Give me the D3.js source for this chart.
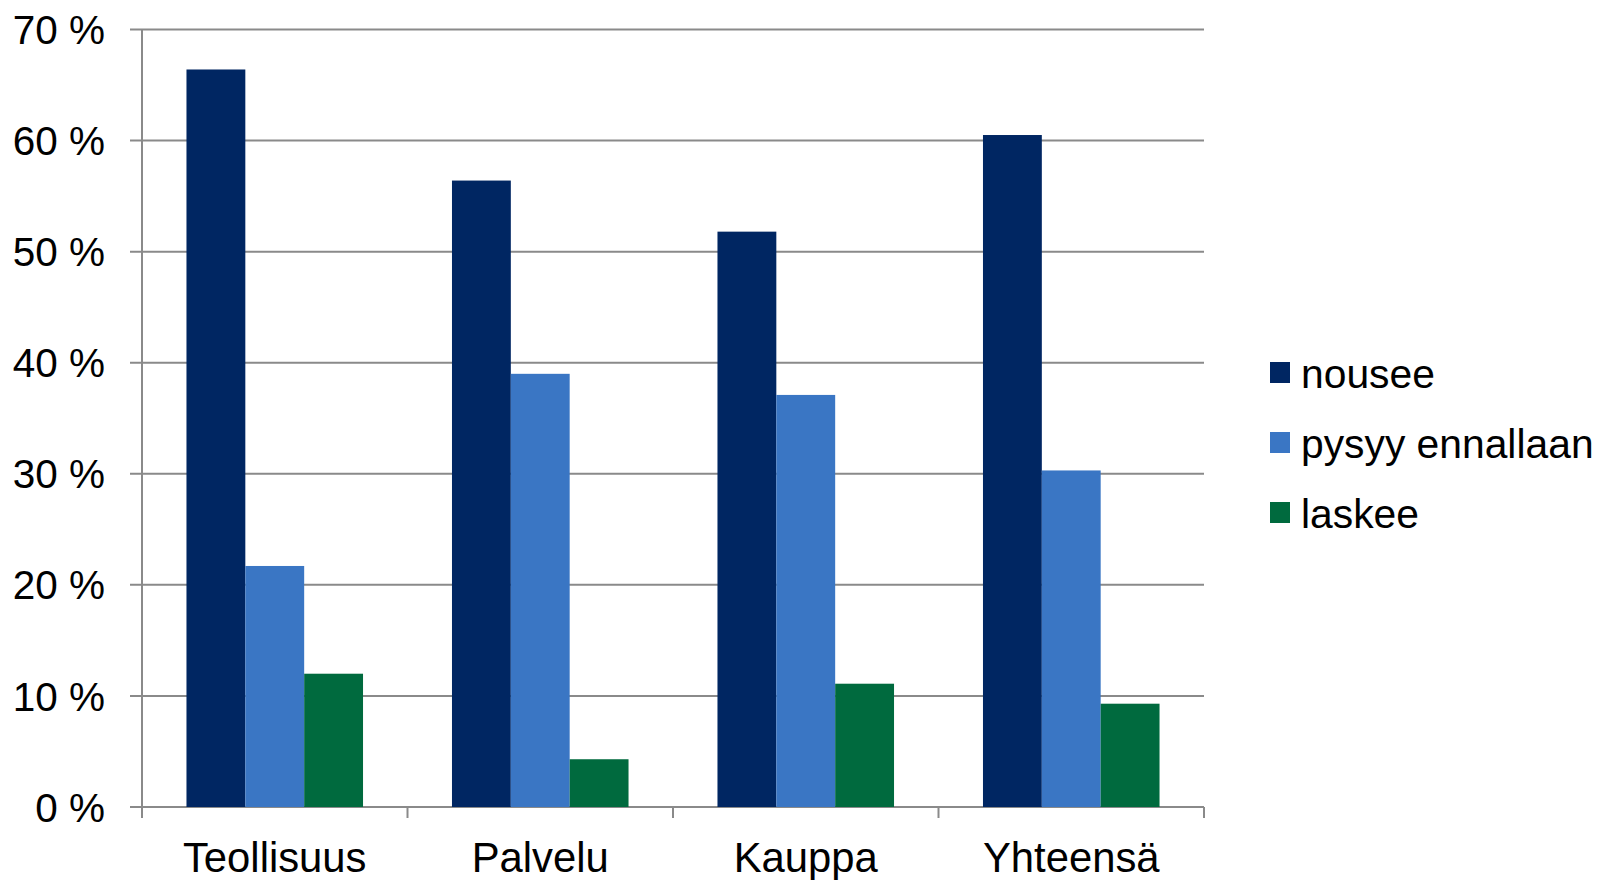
<!DOCTYPE html>
<html><head><meta charset="utf-8">
<script src="https://cdn.jsdelivr.net/npm/d3@7/dist/d3.min.js"></script>
<style>
html,body{margin:0;padding:0;background:#fff;}
text{font-family:"Liberation Sans",Arial,sans-serif;fill:#000;}
</style></head>
<body>
<svg id="chart" width="1604" height="880"></svg>
<script>
const categories = ["Teollisuus", "Palvelu", "Kauppa", "Yhteensä"];
const seriesNames = ["nousee", "pysyy ennallaan", "laskee"];
const nousee = [66.4, 56.4, 51.8, 60.5];
const pysyy = [21.7, 39.0, 37.1, 30.3];
const laskee = [12.0, 4.3, 11.1, 9.3];
const yTicks = [0, 10, 20, 30, 40, 50, 60, 70];
const colors = ["#002662", "#3a76c4", "#006a3e"];

(function () {
const seriesValues = [nousee, pysyy, laskee];
const svg = d3.select("#chart");
const mLeft = 142, mRight = 1204, mTop = 29.5, mBottom = 807;

const x0 = d3.scaleBand().domain(categories).range([mLeft, mRight])
  .paddingInner(0.335).paddingOuter(0.335 / 2);
const x1 = d3.scaleBand().domain(seriesNames).range([0, x0.bandwidth()]).padding(0);
const y = d3.scaleLinear().domain([0, 70]).range([mBottom, mTop]);

const gridColor = "#8a8a8a";

svg.append("g").selectAll("line").data(yTicks).join("line")
  .attr("x1", mLeft - 12).attr("x2", mRight)
  .attr("y1", d => y(d)).attr("y2", d => y(d))
  .attr("stroke", gridColor).attr("stroke-width", 2);

svg.append("line").attr("x1", mLeft).attr("x2", mLeft)
  .attr("y1", mTop).attr("y2", mBottom + 11)
  .attr("stroke", gridColor).attr("stroke-width", 2);

const step = x0.step();
const boundaries = d3.range(categories.length + 1).map(i => mLeft + i * step);
svg.append("g").selectAll("line").data(boundaries).join("line")
  .attr("x1", d => d).attr("x2", d => d)
  .attr("y1", mBottom).attr("y2", mBottom + 11)
  .attr("stroke", gridColor).attr("stroke-width", 2);

svg.append("g").selectAll("text").data(yTicks).join("text")
  .attr("x", 105).attr("y", d => y(d)).attr("dy", "0.36em")
  .attr("text-anchor", "end").attr("font-size", 40.5)
  .text(d => d + " %");

const groups = svg.append("g").selectAll("g").data(categories).join("g")
  .attr("transform", c => `translate(${x0(c)},0)`);
groups.selectAll("rect")
  .data((c, ci) => seriesNames.map((s, si) => ({s, si, v: seriesValues[si][ci]})))
  .join("rect")
  .attr("x", d => x1(d.s)).attr("width", x1.bandwidth())
  .attr("y", d => y(d.v)).attr("height", d => y(0) - y(d.v))
  .attr("fill", d => colors[d.si]);

svg.append("g").selectAll("text").data(categories).join("text")
  .attr("x", c => x0(c) + x0.bandwidth() / 2).attr("y", 872)
  .attr("text-anchor", "middle").attr("font-size", 41.8)
  .text(c => c);

const legendY = [373, 443, 513];
const lg = svg.append("g").selectAll("g").data(seriesNames).join("g")
  .attr("transform", (d, i) => `translate(1270,${legendY[i]})`);
lg.append("rect").attr("x", 0).attr("y", -11).attr("width", 20).attr("height", 21)
  .attr("fill", (d, i) => colors[i]);
lg.append("text").attr("x", 31).attr("y", 0).attr("dy", "0.36em")
  .attr("font-size", 40.8).text(d => d);
})();
</script>
</body></html>
